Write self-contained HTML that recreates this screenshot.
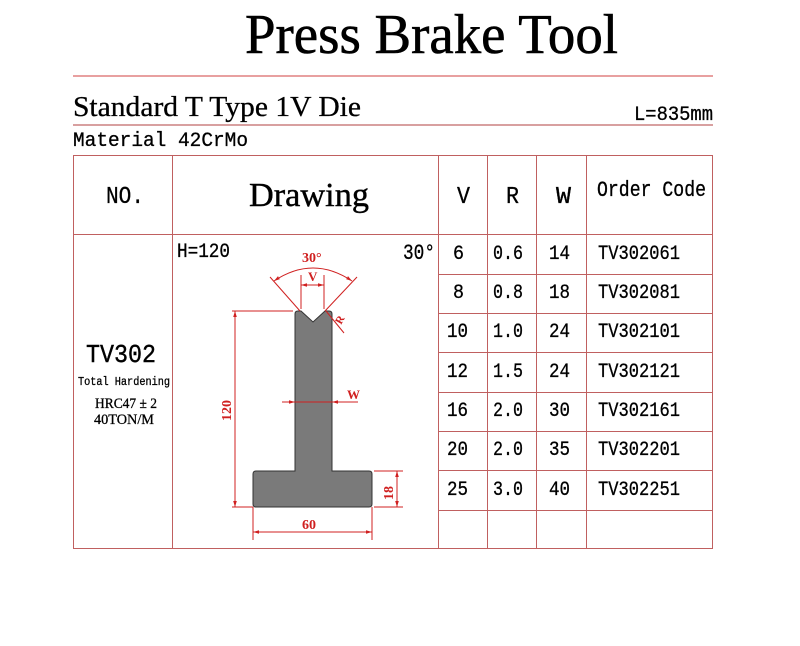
<!DOCTYPE html>
<html><head><meta charset="utf-8"><style>
html,body{margin:0;padding:0;background:#fff;}
svg{display:block}
</style></head><body>
<svg width="800" height="646" viewBox="0 0 800 646" xmlns="http://www.w3.org/2000/svg">
<defs>
<marker id="a" viewBox="0 0 10 10" refX="10" refY="5" markerWidth="6" markerHeight="6" orient="auto-start-reverse"><path d="M0,2 L10,5 L0,8 z" fill="#d02020"/></marker>
</defs>
<rect width="800" height="646" fill="#fff"/>
<text x="245" y="53" font-family="Liberation Serif, serif" font-size="56" textLength="373" lengthAdjust="spacingAndGlyphs" stroke="#000" stroke-width="0.6">Press Brake Tool</text>
<line x1="73" y1="76" x2="713" y2="76" stroke="#d04040" stroke-width="1"/>
<text x="73" y="116" font-family="Liberation Serif, serif" font-size="29" textLength="288" lengthAdjust="spacingAndGlyphs" stroke="#000" stroke-width="0.3">Standard T Type 1V Die</text>
<text x="634" y="120" font-family="Liberation Mono, monospace" font-size="20" textLength="79" lengthAdjust="spacingAndGlyphs" stroke="#000" stroke-width="0.3">L=835mm</text>
<line x1="73" y1="125" x2="713" y2="125" stroke="#b04040" stroke-width="1"/>
<text x="73" y="146" font-family="Liberation Mono, monospace" font-size="20" textLength="175" lengthAdjust="spacingAndGlyphs" stroke="#000" stroke-width="0.3">Material  42CrMo</text>
<g stroke="#c06060" stroke-width="1" fill="none">
<rect x="73.5" y="155.5" width="639" height="393"/>
<line x1="172.5" y1="155" x2="172.5" y2="549"/>
<line x1="438.5" y1="155" x2="438.5" y2="549"/>
<line x1="487.5" y1="155" x2="487.5" y2="549"/>
<line x1="536.5" y1="155" x2="536.5" y2="549"/>
<line x1="586.5" y1="155" x2="586.5" y2="549"/>
<line x1="73" y1="234.5" x2="713" y2="234.5"/>
<line x1="438" y1="274.5" x2="713" y2="274.5"/>
<line x1="438" y1="313.5" x2="713" y2="313.5"/>
<line x1="438" y1="352.5" x2="713" y2="352.5"/>
<line x1="438" y1="392.5" x2="713" y2="392.5"/>
<line x1="438" y1="431.5" x2="713" y2="431.5"/>
<line x1="438" y1="470.5" x2="713" y2="470.5"/>
<line x1="438" y1="510.5" x2="713" y2="510.5"/>
</g>
<g font-family="Liberation Mono, monospace" font-size="24" stroke="#000" stroke-width="0.3">
<text x="106" y="203" textLength="38" lengthAdjust="spacingAndGlyphs">NO.</text>
<text x="457" y="203" textLength="13" lengthAdjust="spacingAndGlyphs">V</text>
<text x="506" y="203" textLength="13" lengthAdjust="spacingAndGlyphs">R</text>
<text x="556" y="203" textLength="15" lengthAdjust="spacingAndGlyphs">W</text>
<text x="597" y="196" font-size="22" textLength="109" lengthAdjust="spacingAndGlyphs">Order Code</text>
</g>
<text x="249" y="206" font-family="Liberation Serif, serif" font-size="34" textLength="120" lengthAdjust="spacingAndGlyphs" stroke="#000" stroke-width="0.4">Drawing</text>
<g font-family="Liberation Mono, monospace" font-size="20" stroke="#000" stroke-width="0.3">
<text x="453" y="259" textLength="11" lengthAdjust="spacingAndGlyphs">6</text><text x="493" y="259" textLength="30" lengthAdjust="spacingAndGlyphs">0.6</text><text x="549" y="259" textLength="21" lengthAdjust="spacingAndGlyphs">14</text><text x="598" y="259" textLength="82" lengthAdjust="spacingAndGlyphs">TV302061</text>
<text x="453" y="298" textLength="11" lengthAdjust="spacingAndGlyphs">8</text><text x="493" y="298" textLength="30" lengthAdjust="spacingAndGlyphs">0.8</text><text x="549" y="298" textLength="21" lengthAdjust="spacingAndGlyphs">18</text><text x="598" y="298" textLength="82" lengthAdjust="spacingAndGlyphs">TV302081</text>
<text x="447" y="337" textLength="21" lengthAdjust="spacingAndGlyphs">10</text><text x="493" y="337" textLength="30" lengthAdjust="spacingAndGlyphs">1.0</text><text x="549" y="337" textLength="21" lengthAdjust="spacingAndGlyphs">24</text><text x="598" y="337" textLength="82" lengthAdjust="spacingAndGlyphs">TV302101</text>
<text x="447" y="377" textLength="21" lengthAdjust="spacingAndGlyphs">12</text><text x="493" y="377" textLength="30" lengthAdjust="spacingAndGlyphs">1.5</text><text x="549" y="377" textLength="21" lengthAdjust="spacingAndGlyphs">24</text><text x="598" y="377" textLength="82" lengthAdjust="spacingAndGlyphs">TV302121</text>
<text x="447" y="416" textLength="21" lengthAdjust="spacingAndGlyphs">16</text><text x="493" y="416" textLength="30" lengthAdjust="spacingAndGlyphs">2.0</text><text x="549" y="416" textLength="21" lengthAdjust="spacingAndGlyphs">30</text><text x="598" y="416" textLength="82" lengthAdjust="spacingAndGlyphs">TV302161</text>
<text x="447" y="455" textLength="21" lengthAdjust="spacingAndGlyphs">20</text><text x="493" y="455" textLength="30" lengthAdjust="spacingAndGlyphs">2.0</text><text x="549" y="455" textLength="21" lengthAdjust="spacingAndGlyphs">35</text><text x="598" y="455" textLength="82" lengthAdjust="spacingAndGlyphs">TV302201</text>
<text x="447" y="495" textLength="21" lengthAdjust="spacingAndGlyphs">25</text><text x="493" y="495" textLength="30" lengthAdjust="spacingAndGlyphs">3.0</text><text x="549" y="495" textLength="21" lengthAdjust="spacingAndGlyphs">40</text><text x="598" y="495" textLength="82" lengthAdjust="spacingAndGlyphs">TV302251</text>
<text x="177" y="257" textLength="53" lengthAdjust="spacingAndGlyphs">H=120</text>
<text x="403" y="259" font-size="22" textLength="32" lengthAdjust="spacingAndGlyphs">30°</text>
</g>
<text x="86" y="362" font-family="Liberation Mono, monospace" font-size="26" textLength="70" lengthAdjust="spacingAndGlyphs" stroke="#000" stroke-width="0.4">TV302</text>
<text x="78" y="385" font-family="Liberation Mono, monospace" font-size="12" textLength="92" lengthAdjust="spacingAndGlyphs" stroke="#000" stroke-width="0.3">Total Hardening</text>
<text x="95" y="408" font-family="Liberation Serif, serif" font-size="15" textLength="62" lengthAdjust="spacingAndGlyphs" stroke="#000" stroke-width="0.3">HRC47 ± 2</text>
<text x="94" y="424" font-family="Liberation Serif, serif" font-size="15" textLength="60" lengthAdjust="spacingAndGlyphs" stroke="#000" stroke-width="0.3">40TON/M</text>
<path d="M298,311 L301,311 L313,322 L325,311 L329,311 Q332,311 332,314 L332,471 L369,471 Q372,471 372,474 L372,504 Q372,507 369,507 L256,507 Q253,507 253,504 L253,474 Q253,471 256,471 L295,471 L295,314 Q295,311 298,311 Z" fill="#7a7a7a" stroke="#333" stroke-width="1"/>
<g stroke="#d02020" stroke-width="1" fill="none">
<line x1="232" y1="311" x2="293" y2="311"/>
<line x1="235" y1="311" x2="235" y2="507" marker-start="url(#a)" marker-end="url(#a)"/>
<line x1="232" y1="507" x2="253" y2="507"/>
<line x1="253" y1="507" x2="253" y2="540"/>
<line x1="372" y1="507" x2="372" y2="540"/>
<line x1="253" y1="532" x2="372" y2="532" marker-start="url(#a)" marker-end="url(#a)"/>
<line x1="374" y1="471" x2="403" y2="471"/>
<line x1="374" y1="507" x2="403" y2="507"/>
<line x1="397" y1="471" x2="397" y2="507" marker-start="url(#a)" marker-end="url(#a)"/>
<line x1="282" y1="402" x2="295" y2="402" marker-end="url(#a)"/>
<line x1="295" y1="402" x2="332" y2="402"/>
<line x1="358" y1="402" x2="332" y2="402" marker-end="url(#a)"/>
<line x1="300" y1="311" x2="270" y2="277"/>
<line x1="325" y1="311" x2="357" y2="277"/>
<path d="M274,281 Q313,255 352,281" marker-start="url(#a)" marker-end="url(#a)"/>
<line x1="301" y1="275" x2="301" y2="309"/>
<line x1="324" y1="275" x2="324" y2="309"/>
<line x1="301" y1="285" x2="324" y2="285" marker-start="url(#a)" marker-end="url(#a)"/>
<line x1="326" y1="311" x2="344" y2="333"/>
</g>
<g fill="#d02020" font-family="Liberation Serif, serif" font-weight="bold">
<text x="302" y="262" font-size="14">30°</text>
<text x="308" y="281" font-size="13">V</text>
<text x="347" y="399" font-size="13">W</text>
<text x="302" y="529" font-size="14">60</text>
<text transform="translate(231,421) rotate(-90)" font-size="14">120</text>
<text transform="translate(393,500) rotate(-90)" font-size="14">18</text>
<text transform="translate(341,325) rotate(-60)" font-size="11">R</text>
</g>
</svg>
</body></html>
